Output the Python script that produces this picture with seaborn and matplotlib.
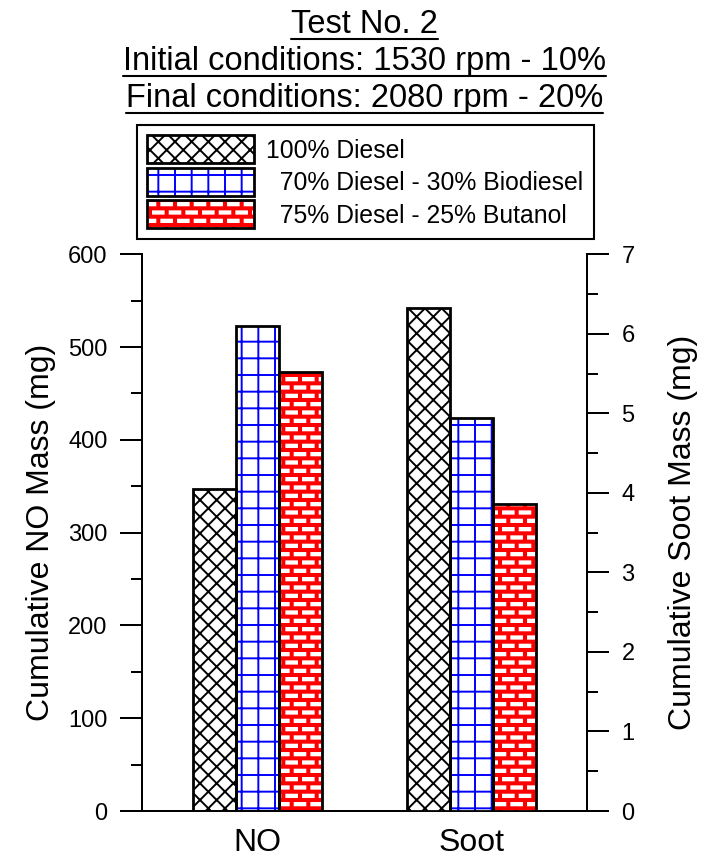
import warnings

import matplotlib
matplotlib.use("Agg")
import matplotlib.pyplot as plt
import pandas as pd
import seaborn as sns
from matplotlib import hatch as mhatch
from matplotlib.path import Path
from matplotlib.patches import Patch
from matplotlib.lines import Line2D
from matplotlib.ticker import MultipleLocator

warnings.filterwarnings("ignore")

# ---------------------------------------------------------------- data
pollutants = ["NO", "Soot"]
fuels = ["100% Diesel", "70% Diesel - 30% Biodiesel", "75% Diesel - 25% Butanol"]
legend_labels = ["100% Diesel", "  70% Diesel - 30% Biodiesel", "  75% Diesel - 25% Butanol"]
no_mass = [347, 523, 473]          # cumulative NO mass, mg
soot_mass = [6.33, 4.94, 3.86]     # cumulative soot mass, mg

title_lines = ["Test No. 2",
               "Initial conditions: 1530 rpm - 10%",
               "Final conditions: 2080 rpm - 20%"]

# ---------------------------------------------------------------- styles
face_colors = ["white", "white", "#ff0000"]
hatch_colors = ["black", "#0000ff", "white"]
hatches = ["xx", "+", "b"]   # diamond cross-hatch, square grid, brick wall


class BrickHatch(mhatch.HatchPatternBase):
    """Staggered rows of filled bricks ('b')."""

    def __init__(self, hatch, density):
        self.rows = hatch.count("b") * 12
        self.cols = self.rows // 2
        n_even = (self.rows + 1) // 2
        n_odd = self.rows // 2
        self.num_vertices = 5 * (n_even * self.cols + n_odd * (self.cols + 1))

    def set_vertices_and_codes(self, vertices, codes):
        h = 1.0 / self.rows
        w = 1.0 / self.cols
        inset = 0.030
        k = 0
        for r in range(self.rows):
            shift = 0.0 if r % 2 == 0 else -0.5 * w
            n = self.cols if r % 2 == 0 else self.cols + 1
            y0, y1 = r * h + inset, (r + 1) * h - inset
            for c in range(n):
                x0 = shift + c * w + inset
                x1 = shift + (c + 1) * w - inset
                vertices[k:k + 5] = [(x0, y0), (x1, y0), (x1, y1), (x0, y1), (x0, y0)]
                codes[k:k + 5] = [Path.MOVETO, Path.LINETO, Path.LINETO,
                                  Path.LINETO, Path.CLOSEPOLY]
                k += 5


mhatch._hatch_types.append(BrickHatch)

# ---------------------------------------------------------------- theme
sns.set_style("ticks")
plt.rcParams["font.family"] = ["Liberation Sans", "DejaVu Sans"]
plt.rcParams["hatch.linewidth"] = 1.4
plt.rcParams["axes.linewidth"] = 1.44
for key in ["text.color", "axes.labelcolor", "xtick.color", "ytick.color",
            "axes.edgecolor"]:
    plt.rcParams[key] = "black"

df = pd.DataFrame({
    "pollutant": [pollutants[0]] * len(fuels) + [pollutants[1]] * len(fuels),
    "fuel": fuels * 2,
    "mass": no_mass + soot_mass,
})

W, H = 705, 863
fig, ax_no = plt.subplots(figsize=(W / 100, H / 100), dpi=100)
fig.subplots_adjust(left=142 / W, right=587 / W, bottom=1 - 811 / H, top=1 - 254.3 / H)
ax_soot = ax_no.twinx()

face_pal = dict(zip(fuels, face_colors))

for ax, name in [(ax_no, pollutants[0]), (ax_soot, pollutants[1])]:
    sub = df[df["pollutant"] == name]
    # hatched fill layer
    sns.barplot(data=sub, x="pollutant", y="mass", hue="fuel", order=pollutants,
                hue_order=fuels, palette=face_pal, saturation=1, width=0.6,
                errorbar=None, legend=False, ax=ax)
    n_fill = len(ax.containers)
    for cont, fc, hc, hp in zip(ax.containers, face_colors, hatch_colors, hatches):
        for bar in cont:
            bar.set_facecolor(fc)
            bar.set_edgecolor(hc)
            bar.set_hatch(hp)
            bar.set_linewidth(0)
    # black outline layer
    sns.barplot(data=sub, x="pollutant", y="mass", hue="fuel", order=pollutants,
                hue_order=fuels, palette=face_pal, saturation=1, width=0.6,
                errorbar=None, legend=False, fill=False, ax=ax)
    for cont in ax.containers[n_fill:]:
        for bar in cont:
            bar.set_facecolor("none")
            bar.set_edgecolor("black")
            bar.set_linewidth(2.0)

ax_no.set_xlim(-0.535, 1.535)

# left axis: NO
ax_no.set_ylim(0, 600)
ax_no.yaxis.set_major_locator(MultipleLocator(100))
ax_no.yaxis.set_minor_locator(MultipleLocator(50))
ax_no.tick_params(axis="y", which="major", direction="out", length=15.8, width=1.44,
                  labelsize=17, pad=9)
ax_no.tick_params(axis="y", which="minor", direction="out", length=7.9, width=1.44)
ax_no.tick_params(axis="x", length=0, labelsize=23, pad=12)
ax_no.set_xlabel("")
ax_no.set_ylabel("Cumulative NO Mass (mg)", fontsize=23)
ax_no.yaxis.set_label_coords(-0.194, 0.5)
ax_no.spines["top"].set_visible(False)
ax_no.spines["right"].set_visible(False)

# right axis: soot
ax_soot.set_ylim(0, 7)
ax_soot.yaxis.set_major_locator(MultipleLocator(1))
ax_soot.yaxis.set_minor_locator(MultipleLocator(0.5))
ax_soot.tick_params(axis="y", which="major", direction="out", length=15.8, width=1.44,
                    labelsize=17, pad=9)
ax_soot.tick_params(axis="y", which="minor", direction="out", length=7.9, width=1.44)
ax_soot.set_ylabel("Cumulative Soot Mass (mg)", fontsize=23)
ax_soot.yaxis.set_label_coords(1.182, 0.5)
for side in ["top", "left", "bottom"]:
    ax_soot.spines[side].set_visible(False)
ax_soot.spines["right"].set_linewidth(1.44)

# legend
handles = []
for fc, hc, hp in zip(face_colors, hatch_colors, hatches):
    handles.append((Patch(facecolor=fc, edgecolor=hc, hatch=hp, linewidth=0),
                    Patch(facecolor="none", edgecolor="black", linewidth=2.0)))
leg_fs = 17.8                       # points
swatch_h = 28 * 72 / 100            # swatch size in points
swatch_w = 107 * 72 / 100
hh = (swatch_h / leg_fs - 0.245) / 0.65
leg = fig.legend(handles, legend_labels, loc="upper left",
                 bbox_to_anchor=(137 / W, 1 - 125 / H), borderaxespad=0,
                 fontsize=leg_fs, frameon=True, fancybox=False, framealpha=1,
                 edgecolor="black", handlelength=swatch_w / leg_fs, handleheight=hh,
                 handletextpad=0.485, labelspacing=0.18, borderpad=0.42,
                 labelcolor="black")
leg.get_frame().set_linewidth(1.5)

# underlined three-line title
baselines = [33, 70, 107]
x_center = (142 + 587) / 2 / W
texts = [fig.text(x_center, 1 - b / H, s, ha="center", va="baseline", fontsize=23.5)
         for s, b in zip(title_lines, baselines)]
fig.canvas.draw()
renderer = fig.canvas.get_renderer()
for t, b in zip(texts, baselines):
    bb = t.get_window_extent(renderer)
    y = 1 - (b + 6) / H
    fig.add_artist(Line2D([bb.x0 / W, bb.x1 / W], [y, y], transform=fig.transFigure,
                          color="black", linewidth=1.5))

fig.savefig("out.png", dpi=100)
